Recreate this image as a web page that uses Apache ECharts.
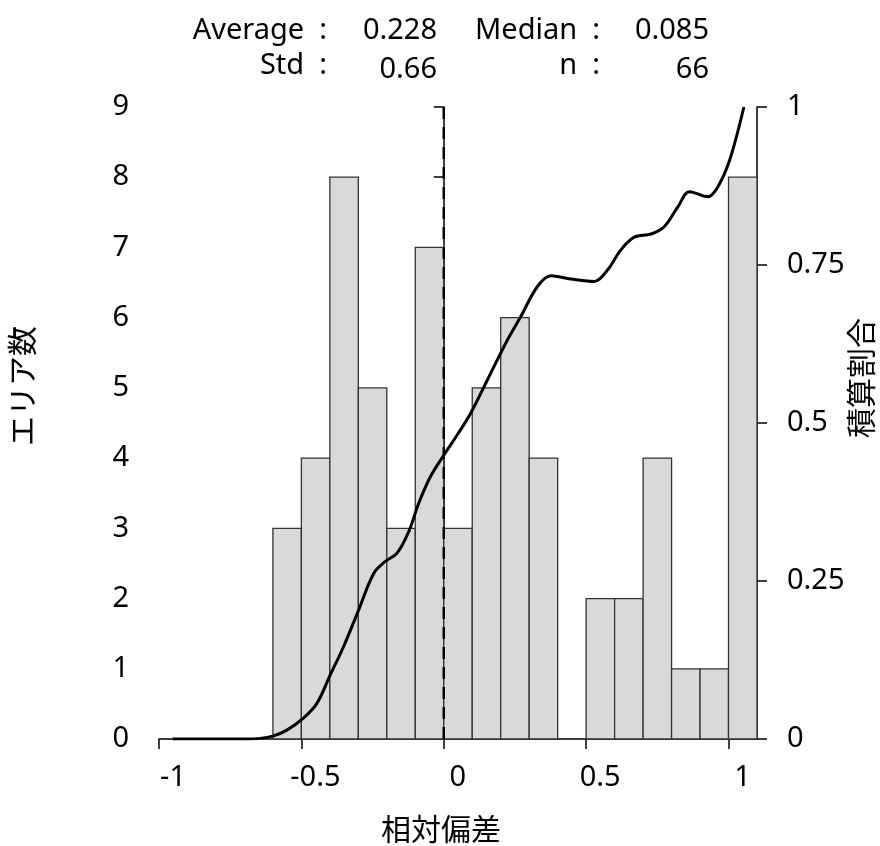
<!DOCTYPE html>
<html>
<head>
<meta charset="utf-8">
<script src="https://cdn.jsdelivr.net/npm/echarts@6/dist/echarts.min.js"></script>
<style>html,body{margin:0;padding:0;background:#fff;}#c{width:880px;height:846px;}</style>
</head>
<body>
<div id="c"></div>
<script>
// ---- data ----
const binLefts = [-0.6,-0.5,-0.4,-0.3,-0.2,-0.1,0.0,0.1,0.2,0.3,0.4,0.5,0.6,0.7,0.8,0.9,1.0];
const binWidth = 0.1;
const counts   = [3,4,8,5,3,7,3,5,6,4,0,2,2,4,1,1,8];
const cumX = [-0.952,-0.8,-0.7,-0.646,-0.598,-0.551,-0.493,-0.446,-0.399,-0.352,-0.299,-0.246,-0.205,-0.164,-0.123,-0.088,-0.047,0,0.047,0.094,0.153,0.223,0.270,0.329,0.376,0.446,0.528,0.575,0.622,0.669,0.728,0.775,0.822,0.863,0.927,0.963,1.004,1.054];
const cumY = [0,0,0,0.001,0.005,0.014,0.033,0.056,0.101,0.146,0.204,0.262,0.281,0.294,0.328,0.373,0.415,0.449,0.481,0.515,0.568,0.631,0.668,0.716,0.733,0.728,0.724,0.742,0.774,0.794,0.799,0.811,0.842,0.866,0.858,0.874,0.916,1.0];
const refLineX = 0;
const xTicks = [-1,-0.5,0,0.5,1];
const statsLabels = ['Average  :','Median  :','Std  :','n  :'];
const statsValues = ['0.228','0.085','0.66','66'];
const xName = '相対偏差', yName = 'エリア数', y2Name = '積算割合';

const LFONT = '"Noto Sans","Noto Sans CJK JP",sans-serif';
const CFONT = '"Noto Sans CJK JP","Noto Sans",sans-serif';
const FS = 29;
const chart = echarts.init(document.getElementById('c'), null, {renderer:'canvas'});
const histData = binLefts.map((l,i)=>[l, +(l+binWidth).toFixed(2), counts[i]]).filter(d=>d[2]>0);
const lineData = cumX.map((x,i)=>[x,cumY[i]]);
const nameStyle = {color:'#000',fontSize:30,fontFamily:CFONT};
const axisCommon = {
  axisLine:{show:true,lineStyle:{color:'#000',width:1.5}},
  axisTick:{show:true,inside:false,length:10,lineStyle:{color:'#000',width:1.5}},
  splitLine:{show:false},
  axisLabel:{color:'#000',fontSize:FS,fontFamily:LFONT,margin:30},
  nameTextStyle:nameStyle,
  nameMoveOverlap:false
};
chart.setOption({
  animation:false,
  backgroundColor:'#fff',
  grid:{left:159,right:123,top:107,bottom:107,containLabel:false,outerBoundsMode:'none'},
  xAxis:{type:'value',min:-1,max:1.1,interval:0.5,
    ...axisCommon,
    axisTick:{...axisCommon.axisTick,customValues:xTicks},
    axisLabel:{...axisCommon.axisLabel,customValues:xTicks,margin:24,padding:[0,0,0,28],
      formatter:v=>String(Math.round(v*10)/10)},
    name:xName,nameLocation:'middle',nameGap:75,
    nameTextStyle:{...nameStyle,padding:[0,34,0,0]}},
  yAxis:[
    {type:'value',min:0,max:9,interval:1,position:'left',...axisCommon,
     name:yName,nameLocation:'middle',nameRotate:90,nameGap:122,
     nameTextStyle:{...nameStyle,padding:[0,0,0,74]}},
    {type:'value',min:0,max:1,interval:0.25,position:'right',...axisCommon,
     name:y2Name,nameLocation:'middle',nameRotate:90,nameGap:89,
     nameTextStyle:{...nameStyle,padding:[0,0,0,90]}}
  ],
  series:[
    {type:'custom',xAxisIndex:0,yAxisIndex:0,data:histData,encode:{x:[0,1],y:2},z:1,
     renderItem:(params,api)=>{
       const p0 = api.coord([api.value(0),api.value(2)]);
       const p1 = api.coord([api.value(1),0]);
       return {type:'rect',shape:{x:p0[0],y:p0[1],width:p1[0]-p0[0],height:p1[1]-p0[1]},
         style:{fill:'#d9d9d9',stroke:'#333',lineWidth:1.3}};
     }},
    {type:'line',xAxisIndex:0,yAxisIndex:1,data:lineData,smooth:0.35,showSymbol:false,z:3,
     lineStyle:{color:'#000',width:3}},
    {type:'line',xAxisIndex:0,yAxisIndex:0,data:[[refLineX,0],[refLineX,9]],showSymbol:false,z:4,
     lineStyle:{color:'#000',width:2.5,type:[12,8]}}
  ],
  graphic:[
    {type:'text',x:327,y:31,style:{text:statsLabels[0],align:'right',verticalAlign:'middle',font:`${FS}px ${LFONT}`,fill:'#000'}},
    {type:'text',x:437,y:31,style:{text:statsValues[0],align:'right',verticalAlign:'middle',font:`${FS}px ${LFONT}`,fill:'#000'}},
    {type:'text',x:600,y:31,style:{text:statsLabels[1],align:'right',verticalAlign:'middle',font:`${FS}px ${LFONT}`,fill:'#000'}},
    {type:'text',x:709,y:31,style:{text:statsValues[1],align:'right',verticalAlign:'middle',font:`${FS}px ${LFONT}`,fill:'#000'}},
    {type:'text',x:327,y:66,style:{text:statsLabels[2],align:'right',verticalAlign:'middle',font:`${FS}px ${LFONT}`,fill:'#000'}},
    {type:'text',x:437,y:70,style:{text:statsValues[2],align:'right',verticalAlign:'middle',font:`${FS}px ${LFONT}`,fill:'#000'}},
    {type:'text',x:600,y:66,style:{text:statsLabels[3],align:'right',verticalAlign:'middle',font:`${FS}px ${LFONT}`,fill:'#000'}},
    {type:'text',x:709,y:70,style:{text:statsValues[3],align:'right',verticalAlign:'middle',font:`${FS}px ${LFONT}`,fill:'#000'}}
  ]
});
</script>
</body>
</html>
